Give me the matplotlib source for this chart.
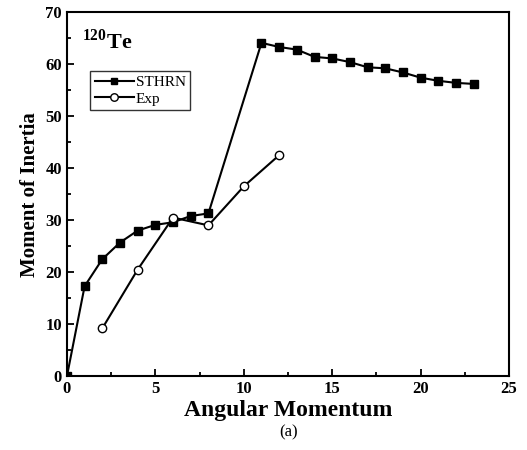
import matplotlib
matplotlib.use('Agg')
import matplotlib.pyplot as plt
from matplotlib.ticker import MultipleLocator

plt.rcParams['font.family'] = 'Liberation Serif'
plt.rcParams['mathtext.fontset'] = 'custom'
plt.rcParams['mathtext.rm'] = 'Liberation Serif:bold'
plt.rcParams['mathtext.bf'] = 'Liberation Serif:bold'

# STHRN calculation
sthrn_j = [0, 1, 2, 3, 4, 5, 6, 7, 8, 11, 12, 13, 14, 15, 16, 17, 18, 19, 20, 21, 22, 23]
sthrn_moi = [0, 17.3, 22.5, 25.7, 28.0, 29.1, 29.6, 30.8, 31.3, 64.1, 63.3, 62.8, 61.4,
             61.1, 60.4, 59.4, 59.2, 58.4, 57.4, 56.8, 56.4, 56.2]

# experiment
exp_j = [2, 4, 6, 8, 10, 12]
exp_moi = [9.2, 20.5, 30.5, 29.0, 36.5, 42.5]

fig = plt.figure(figsize=(5.27, 4.5), dpi=100)
ax = fig.add_axes([0.127, 0.164, 0.839, 0.809])

ax.plot(sthrn_j, sthrn_moi, '-s', color='black', linewidth=1.5, markersize=5.5,
        label='STHRN')
ax.plot(exp_j, exp_moi, '-o', color='black', markerfacecolor='white', linewidth=1.5,
        markersize=6, label='Exp')

ax.set_xlim(0, 25)
ax.set_ylim(0, 70)
ax.xaxis.set_major_locator(MultipleLocator(5))
ax.xaxis.set_minor_locator(MultipleLocator(2.5))
ax.yaxis.set_major_locator(MultipleLocator(10))
ax.yaxis.set_minor_locator(MultipleLocator(5))
ax.tick_params(which='both', direction='in', width=1.3)
ax.tick_params(which='major', length=5, labelsize=12)
ax.tick_params(which='minor', length=3)
for lab in ax.get_xticklabels() + ax.get_yticklabels():
    lab.set_fontweight('bold')
for sp in ax.spines.values():
    sp.set_linewidth(1.5)

ax.set_xlabel('Angular Momentum', fontsize=17, fontweight='bold', labelpad=2)
ax.set_ylabel('Moment of Inertia', fontsize=15, fontweight='bold', labelpad=4)

ax.text(0.035, 0.9, r'$^{120}$Te', transform=ax.transAxes, fontsize=16,
        fontweight='bold')

leg = ax.legend(loc='upper left', bbox_to_anchor=(0.035, 0.86), fontsize=11,
                fancybox=False, edgecolor='black', handlelength=2.6,
                handletextpad=0.1, borderpad=0.3, labelspacing=0.2,
                markerscale=0.9)
leg.get_frame().set_linewidth(1.0)

fig.text(0.548, 0.03, '(a)', ha='center', fontsize=12)

plt.savefig('out.png', dpi=100)
